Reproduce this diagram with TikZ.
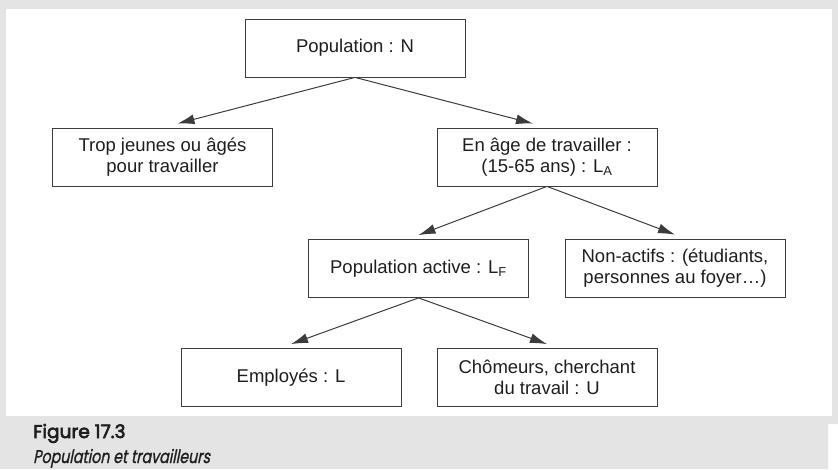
\documentclass[tikz,border=0pt]{standalone}
\usepackage{fontspec}
\setmainfont{Liberation Sans}
\newfontfamily\figfont[FakeBold=3.5]{Poppins}
\newfontfamily\figitfont[FakeStretch=0.77,FakeSlant=0.2,FakeBold=1]{Poppins}
\usepackage{tikz}
\usetikzlibrary{arrows.meta, calc}

\definecolor{framegray}{RGB}{228,228,228}
\definecolor{linegray}{RGB}{60,60,60}
\definecolor{txtgray}{RGB}{30,30,30}

\tikzset{
    popbox/.style={draw=linegray, line width=0.8pt, fill=white, text=txtgray,
        minimum width=220pt, minimum height=58pt, align=center, inner sep=0pt,
        font=\fontsize{18.5}{20.5}\selectfont},
    arr/.style={draw=linegray, line width=1pt, -{Latex[length=17pt,width=10pt]}}
}

\begin{document}
\begin{tikzpicture}[x=1pt, y=-1pt]
            \useasboundingbox (0,0) rectangle (838,469);
            % frame
            \fill[framegray] (0,0) -- (838,0) -- (838,424) -- (828,424) -- (828,469) -- (0,469) -- cycle;
            \fill[white] (6,9) rectangle (832,416);

            % boxes
            \node[popbox] (popN) at (355,48) {Population : N};
            \node[popbox] (trop) at (162.5,157) {Trop jeunes ou âgés\\pour travailler};
            \node[popbox] (age) at (547,157) {En âge de travailler :\\(15-65 ans) : L\textsubscript{A}};
            \node[popbox] (active) at (418.5,268.5) {Population active : L\textsubscript{F}};
            \node[popbox] (nonact) at (675,268) {Non-actifs : (étudiants,\\personnes au foyer…)};
            \node[popbox] (empl) at (291,377.5) {Employés : L};
            \node[popbox] (chom) at (547,377.5) {Chômeurs, cherchant\\du travail : U};

            % arrows
            \foreach \a\b\s in {popN/trop/15, popN/age/-14, age/active/0, age/nonact/0, active/empl/0, active/chom/0} {
                \draw[arr] (\a.south) -- ([xshift=\s pt, yshift=4pt]\b.north);
            }

            % caption
            \node[anchor=base west, inner sep=0pt, text=txtgray, font=\figfont\fontsize{18.5}{20}\selectfont] (figno) at (33,438) {Figure 17.3};
            \node[anchor=base west, inner sep=0pt, text=txtgray, font=\figitfont\fontsize{18.5}{20}\selectfont] (figtitle) at (33,463) {Population et travailleurs};
        \end{tikzpicture}
\end{document}
